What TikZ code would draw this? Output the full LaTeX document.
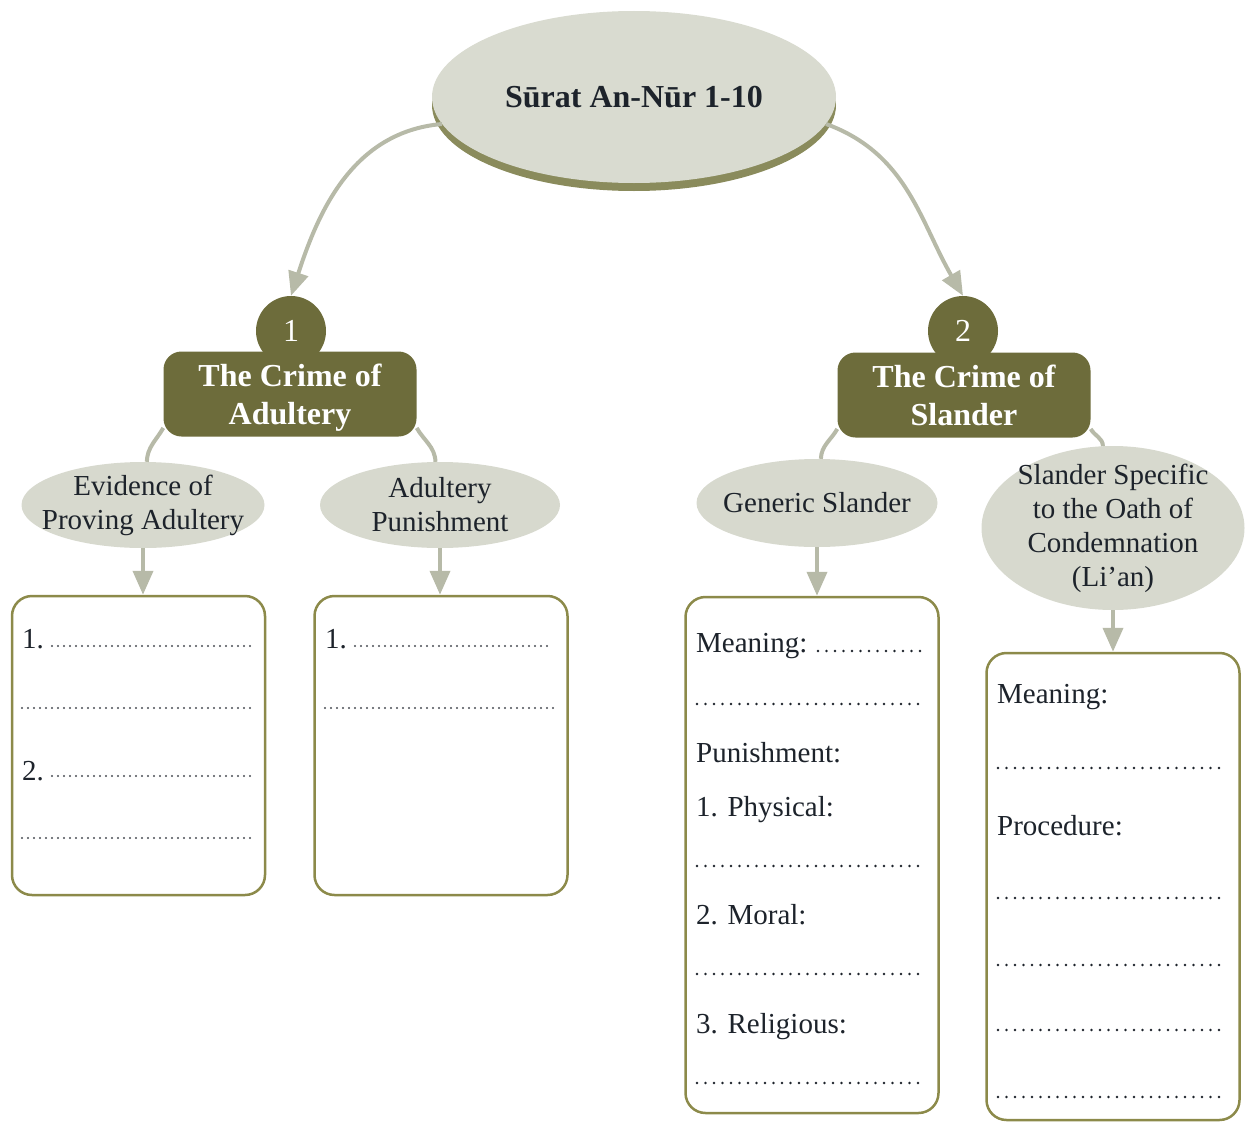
\documentclass[tikz,border=0pt]{standalone}
\usepackage{fontspec}
\setmainfont{Liberation Serif}
\usetikzlibrary{shapes.geometric,arrows.meta}
\definecolor{sage}{HTML}{B7BAA8}
\definecolor{leaffill}{HTML}{D7D9CE}
\definecolor{discfill}{HTML}{D9DBD0}
\definecolor{discrim}{HTML}{8A8B5C}
\definecolor{badgeol}{HTML}{6D6C3B}
\definecolor{cardline}{HTML}{8C8A4A}
\definecolor{ink}{HTML}{1D232B}

\begin{document}
\begin{tikzpicture}[x=1pt,y=-1pt,
    every node/.style={text=ink},
    disc/.style={ellipse,minimum width=404pt,minimum height=172pt,inner sep=0pt},
    num/.style={circle,fill=badgeol,minimum size=70pt,inner sep=0pt,text=white,font=\fontsize{32}{38}\selectfont},
    crime/.style={fill=badgeol,rounded corners=18pt,minimum width=253pt,minimum height=85pt,inner sep=0pt,
        align=center,text depth=0pt,text=white,font=\fontsize{32}{38}\selectfont\bfseries},
    leaf/.style={ellipse,fill=leaffill,inner xsep=-40pt,inner ysep=-30pt,align=center,font=\fontsize{29}{34}\selectfont},
    card/.style={draw=cardline,line width=2.5pt,rounded corners=20pt,fill=white,minimum width=253pt},
    txt/.style={anchor=base west,inner sep=0pt,font=\fontsize{29}{34}\selectfont},
    link/.style={draw=sage,line width=4pt},
    tip/.style={link,-{Triangle[width=20pt,length=24pt]}},
    fine/.style={ink!80,line width=2.4pt,line cap=round,dash pattern=on 0pt off 6pt},
    coarse/.style={ink,line width=2.8pt,line cap=round,dash pattern=on 0pt off 8.5pt}]
    \useasboundingbox (0,0) rectangle (1247,1124);

    \node[disc,fill=discrim] (rim) at (634,105) {};
    \node[disc,fill=discfill,font=\fontsize{32}{38}\selectfont\bfseries] (title) at (634,97) {Sūrat An-Nūr 1-10};

    \node[num] (n1) at (291,331) {1};
    \node[crime] (crime1) at (290,394) {The Crime of\\Adultery};
    \node[num] (n2) at (963,331) {2};
    \node[crime] (crime2) at (964,395) {The Crime of\\Slander};

    \node[leaf,minimum width=243pt,minimum height=86pt] (evid) at (143,505) {Evidence of\\Proving Adultery};
    \node[leaf,minimum width=240pt,minimum height=86pt] (punish) at (440,505) {Adultery\\Punishment};
    \node[leaf,minimum width=241pt,minimum height=88pt] (generic) at (817,503) {Generic Slander};
    \node[leaf,minimum width=263pt,minimum height=164pt] (lian) at (1113,528) {Slander Specific\\to the Oath of\\Condemnation\\(Li’an)};

    \node[card,minimum height=299pt] (box1) at (138.5,745.5) {};
    \node[card,minimum height=299pt] (box2) at (441,745.5) {};
    \node[card,minimum height=516pt] (box3) at (812,855) {};
    \node[card,minimum height=467pt] (box4) at (1113,886.5) {};

    \draw[tip] (title.188) to[out=185,in=72] (n1.north);
    \draw[tip] (title.352) to[out=-20,in=120] (n2.north);
    \draw[link] (crime1.195) to[out=240,in=88] (evid.85);
    \draw[link] (crime1.345) to[out=-60,in=92] (punish.96);
    \draw[link] (crime2.195) to[out=240,in=88] (generic.85);
    \draw[link] (crime2.345) to[out=-60,in=92] (lian.97);
    \draw[tip] (evid.south) -- (evid.south |- box1.north);
    \draw[tip] (punish.south) -- (punish.south |- box2.north);
    \draw[tip] (generic.south) -- (generic.south |- box3.north);
    \draw[tip] (lian.south) -- (lian.south |- box4.north);

    \node[txt] (b1a) at (22,648) {1.};
    \node[txt] (b1b) at (22,780) {2.};
    \draw[fine] (52,646) -- (250,646) (22,708) -- (252,708)
        (52,776) -- (250,776) (22,838) -- (252,838);

    \node[txt] (b2a) at (325,648) {1.};
    \draw[fine] (355,646) -- (552,646) (325,708) -- (555,708);

    \node[txt] (b3a) at (696,652) {Meaning:};
    \node[txt] (b3b) at (696,762) {Punishment:};
    \node[txt] (b3c) at (696,816) {1. Physical:};
    \node[txt] (b3d) at (696,924) {2. Moral:};
    \node[txt] (b3e) at (696,1033) {3. Religious:};
    \draw[coarse] (818,651) -- (922,651);
    \foreach \y in {704,866,974,1083}
        \draw[coarse] (697,\y) -- (920,\y);

    \node[txt] (b4a) at (997,703) {Meaning:};
    \node[txt] (b4b) at (997,835) {Procedure:};
    \foreach \y in {768,898,965,1030,1097}
        \draw[coarse] (998,\y) -- (1220,\y);
\end{tikzpicture}
\end{document}
